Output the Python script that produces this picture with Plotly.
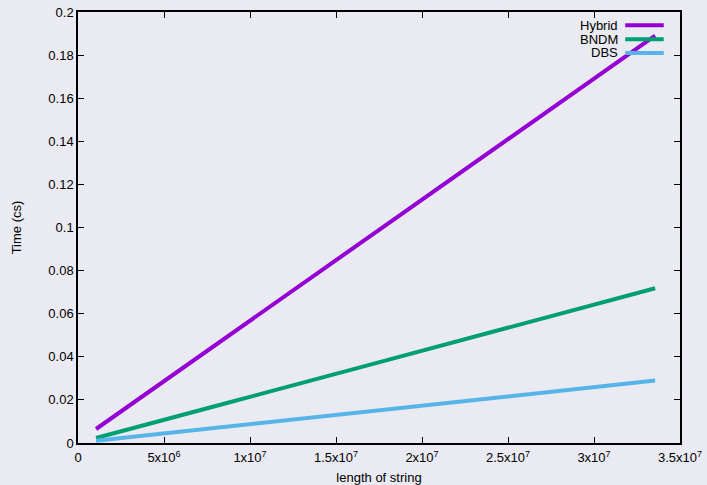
import plotly.graph_objects as go

# Data
x_len = [1048576, 2097152, 4194304, 8388608, 16777216, 33554432]
hybrid = [0.0065, 0.0124, 0.0242, 0.0477, 0.0948, 0.189]
bndm = [0.0023, 0.0045, 0.0090, 0.0180, 0.0359, 0.0718]
dbs = [0.0010, 0.0019, 0.0037, 0.0073, 0.0145, 0.0290]

series_names = ["Hybrid", "BNDM", "DBS"]
series_vals = [hybrid, bndm, dbs]
colors = ["#9400d3", "#009e73", "#56b4e9"]

x_tickvals = [0, 5e6, 1e7, 1.5e7, 2e7, 2.5e7, 3e7, 3.5e7]
x_ticktext = ["0", "5x10<sup>6</sup>", "1x10<sup>7</sup>", "1.5x10<sup>7</sup>",
              "2x10<sup>7</sup>", "2.5x10<sup>7</sup>", "3x10<sup>7</sup>", "3.5x10<sup>7</sup>"]
y_tickvals = [0, 0.02, 0.04, 0.06, 0.08, 0.1, 0.12, 0.14, 0.16, 0.18, 0.2]
y_ticktext = ["0", "0.02", "0.04", "0.06", "0.08", "0.1", "0.12", "0.14", "0.16", "0.18", "0.2"]

bg = "#eaeaf2"
font = "Liberation Sans, Arial, Helvetica, sans-serif"
fs = 13

fig = go.Figure()
for name, vals, c in zip(series_names, series_vals, colors):
    fig.add_trace(go.Scatter(x=x_len, y=vals, mode="lines", name=name,
                             line=dict(color=c, width=4), showlegend=False))

# manual gnuplot-style legend (text left, sample right)
leg_y = [0.969, 0.937, 0.905]
for name, c, ly in zip(series_names, colors, leg_y):
    fig.add_annotation(xref="paper", yref="paper", x=0.898, y=ly, text=name,
                       showarrow=False, xanchor="right", yanchor="middle",
                       borderpad=0,
                       font=dict(family=font, size=fs, color="black"))
    fig.add_shape(type="line", xref="paper", yref="paper", x0=0.909, x1=0.973,
                  y0=ly, y1=ly, line=dict(color=c, width=4))

axis_common = dict(showgrid=False, zeroline=False, showline=True, linecolor="black",
                   linewidth=1.5, mirror="allticks", ticks="inside", ticklen=6,
                   tickcolor="black", tickwidth=1, automargin=False,
                   tickfont=dict(family=font, size=fs, color="black"))

fig.update_xaxes(range=[0, 3.5e7], tickvals=x_tickvals, ticktext=x_ticktext,
                 ticklabelstandoff=2,
                 title=dict(text="length of string", font=dict(family=font, size=fs, color="black"),
                            standoff=12),
                 **axis_common)
fig.update_yaxes(range=[0, 0.2], tickvals=y_tickvals, ticktext=y_ticktext,
                 title=dict(text="Time (cs)", font=dict(family=font, size=fs, color="black"),
                            standoff=24),
                 **axis_common)

fig.update_layout(width=707, height=485, paper_bgcolor=bg, plot_bgcolor=bg,
                  margin=dict(l=78, r=27, t=12, b=42),
                  font=dict(family=font, size=fs, color="black"))

fig.write_html("out.html")
